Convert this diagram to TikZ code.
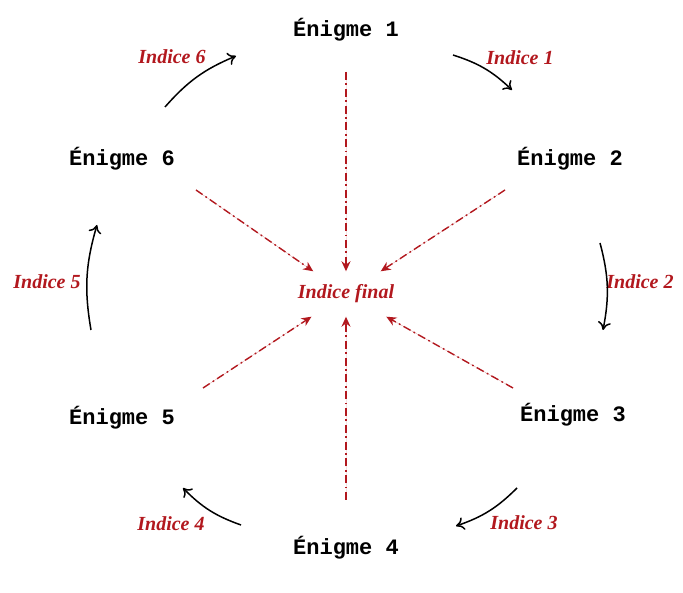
\documentclass[tikz,border=0pt]{standalone}
\usepackage{fontspec}
\usepackage{tikz}
\usetikzlibrary{arrows.meta, positioning}
\newfontfamily\enigmefont{Liberation Mono}
\newfontfamily\indicefont{Liberation Serif}
\definecolor{indicered}{RGB}{178,24,30}
\tikzset{
	enigmebox/.style={font=\enigmefont\bfseries\fontsize{22}{26}\selectfont, inner sep=4pt},
	indicelabel/.style={font=\indicefont\bfseries\itshape\fontsize{20}{24}\selectfont, text=indicered},
	cyclearr/.style={-{To[length=8pt,width=13pt]}, line width=1.5pt, bend left=13},
	finalarr/.style={-{Stealth[length=10pt,width=9pt]}, draw=indicered, fill=indicered, line width=1.4pt, dash pattern=on 8pt off 3.5pt on 1.8pt off 3.5pt},
}

\begin{document}
\begin{tikzpicture}[x=1pt, y=1pt]
	\useasboundingbox (0,0) rectangle (683,592);
	% the six riddles
	\node[enigmebox] (e1) at (346,562) {Énigme 1};
	\node[enigmebox] (e2) at (570,433) {Énigme 2};
	\node[enigmebox] (e3) at (573,177) {Énigme 3};
	\node[enigmebox] (e4) at (346,44) {Énigme 4};
	\node[enigmebox] (e5) at (122,174) {Énigme 5};
	\node[enigmebox] (e6) at (122,433) {Énigme 6};
	\node[indicelabel, minimum height=45pt] (final) at (346,298) {Indice final};
	% clues along the cycle
	\node[indicelabel] (i1) at (520,534) {Indice 1};
	\node[indicelabel] (i2) at (640,310) {Indice 2};
	\node[indicelabel] (i3) at (524,69) {Indice 3};
	\node[indicelabel] (i4) at (171,68) {Indice 4};
	\node[indicelabel] (i5) at (47,310) {Indice 5};
	\node[indicelabel] (i6) at (172,535) {Indice 6};
	\coordinate (c1s) at (453,537); \coordinate (c1e) at (512,502);
	\coordinate (c2s) at (600,349); \coordinate (c2e) at (603,262);
	\coordinate (c3s) at (517,104); \coordinate (c3e) at (456,66);
	\coordinate (c4s) at (241,67);  \coordinate (c4e) at (183,104);
	\coordinate (c5s) at (91,262);  \coordinate (c5e) at (97,367);
	\coordinate (c6s) at (165,485); \coordinate (c6e) at (236,536);
	\draw[cyclearr] (c1s) to (c1e);
	\draw[cyclearr] (c2s) to (c2e);
	\draw[cyclearr] (c3s) to (c3e);
	\draw[cyclearr] (c4s) to (c4e);
	\draw[cyclearr] (c5s) to (c5e);
	\draw[cyclearr] (c6s) to (c6e);
	% towards the final clue
	\coordinate (f1) at (346,520);
	\coordinate (f2) at (505,402);
	\coordinate (f3) at (513,204);
	\coordinate (f4) at (346,92);
	\coordinate (f5) at (203,204);
	\coordinate (f6) at (196,402);
	\foreach \f in {f1,f2,f3,f4,f5,f6}
		\draw[finalarr] (\f) -- (final);
\end{tikzpicture}
\end{document}
